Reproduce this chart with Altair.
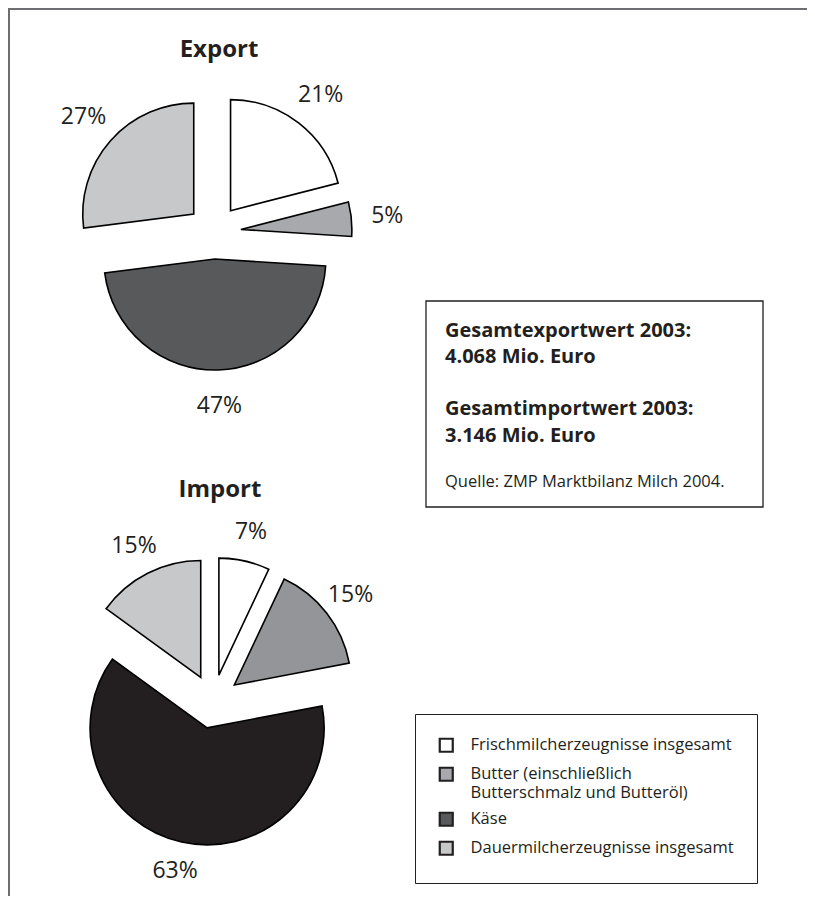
import altair as alt
import pandas as pd

# ---- data ----
categories = [
    "Frischmilcherzeugnisse insgesamt",
    "Butter (einschließlich\nButterschmalz und Butteröl)",
    "Käse",
    "Dauermilcherzeugnisse insgesamt",
]
export_share = [21, 5, 47, 27]
import_share = [7, 15, 63, 15]
pie_titles = ["Export", "Import"]
info_bold = ["Gesamtexportwert 2003:", "4.068 Mio. Euro",
             "Gesamtimportwert 2003:", "3.146 Mio. Euro"]
info_source = "Quelle: ZMP Marktbilanz Milch 2004."

# ---- styles ----
export_colors = ["#ffffff", "#a7a9ac", "#58595b", "#c7c8ca"]
import_colors = ["#ffffff", "#939598", "#231f20", "#c7c8ca"]
FONT = "Open Sans"
TXT = "#231f20"
EXPLODE = 27
LABEL_R = 174

df = pd.DataFrame({"cat": categories, "order": list(range(len(categories))),
                   "export": export_share, "import": import_share})
one = pd.DataFrame({"a": [0]})


def pie(field, cx, cy, r, colors, legend, title, tx, ty):
    t = (alt.Chart(df)
         .transform_calculate(v=f"datum['{field}']")
         .transform_joinaggregate(total="sum(v)")
         .transform_window(cum="sum(v)", sort=[alt.SortField("order", order="ascending")],
                           frame=[None, 0])
         .transform_calculate(start="(datum.cum - datum.v) / datum.total * 2 * PI",
                              end="datum.cum / datum.total * 2 * PI")
         .transform_calculate(mid="(datum.start + datum.end) / 2")
         .transform_calculate(
             px=f"{cx} + {EXPLODE} * sin(datum.mid)",
             py=f"{cy} - {EXPLODE} * cos(datum.mid)",
             lx=f"{cx} + {LABEL_R} * sin(datum.mid)",
             ly=f"{cy} - {LABEL_R} * cos(datum.mid)",
             lbl="format(datum.v, 'd') + '%'"))
    arcs = t.mark_arc(radius=r, stroke="black", strokeWidth=1.6).encode(
        x=alt.X("px:Q", scale=None, axis=None),
        y=alt.Y("py:Q", scale=None, axis=None),
        theta=alt.Theta("start:Q", scale=None, stack=None),
        theta2="end:Q",
        color=alt.Color("cat:N", sort=categories,
                        scale=alt.Scale(domain=categories, range=colors),
                        legend=legend),
    )
    labels = t.mark_text(font=FONT, fontSize=23, color=TXT, align="center",
                         baseline="middle").encode(
        x=alt.X("lx:Q", scale=None, axis=None),
        y=alt.Y("ly:Q", scale=None, axis=None),
        text="lbl:N",
    )
    ttl = alt.Chart(one).mark_text(font=FONT, fontSize=24, fontWeight="bold", color=TXT,
                                   align="center", baseline="middle").encode(
        x=alt.value(tx), y=alt.value(ty), text=alt.value(title))
    return [arcs, labels, ttl]


legend = alt.Legend(
    title=None, orient="none", legendX=407, legendY=706,
    strokeColor="#231f20", padding=23, fillColor="white",
    symbolType="square", symbolSize=169, symbolStrokeColor="#231f20",
    symbolStrokeWidth=2.2, symbolOpacity=1,
    labelFont=FONT, labelFontSize=16.5, labelColor=TXT, labelLimit=400,
    labelOffset=16, rowPadding=6,
    labelExpr="split(datum.label, '\\n')",
)

export_layers = pie("export", 206, 224, 111, export_colors, legend, pie_titles[0], 211, 42)
import_layers = pie("import", 205, 693.5, 117, import_colors, None, pie_titles[1], 212, 482)

frame_top = alt.Chart(one).mark_rule(color="#6d6e71", strokeWidth=2).encode(
    x=alt.value(0), x2=alt.value(799), y=alt.value(1))
frame_left = alt.Chart(one).mark_rule(color="#6d6e71", strokeWidth=2).encode(
    x=alt.value(1), y=alt.value(0), y2=alt.value(888))

info_box = alt.Chart(one).mark_rect(fill="white", stroke="#231f20", strokeWidth=1.3).encode(
    x=alt.value(418), x2=alt.value(755), y=alt.value(293), y2=alt.value(499))

info_texts = []
for line, yy in zip(info_bold, [329, 355, 407, 434]):
    info_texts.append(alt.Chart(one).mark_text(
        font=FONT, fontSize=20, fontWeight="bold", color=TXT, align="left",
        baseline="alphabetic").encode(x=alt.value(437), y=alt.value(yy), text=alt.value(line)))
info_texts.append(alt.Chart(one).mark_text(
    font=FONT, fontSize=16.5, color=TXT, align="left", baseline="alphabetic").encode(
    x=alt.value(437), y=alt.value(479), text=alt.value(info_source)))

chart = alt.layer(
    frame_top, frame_left, *export_layers, *import_layers, info_box, *info_texts
).resolve_scale(color="independent").properties(
    width=799, height=888, padding=0, autosize=alt.AutoSizeParams(type="none"),
    background="white",
).configure_view(stroke=None)

chart.save("out.html", embed_options={"renderer": "svg", "actions": False})
